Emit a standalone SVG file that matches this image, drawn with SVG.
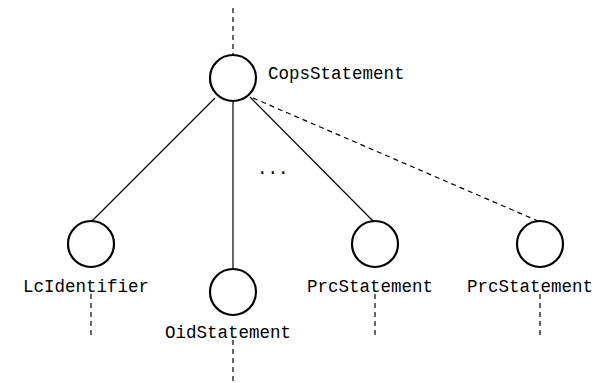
<svg xmlns="http://www.w3.org/2000/svg" width="597" height="383" viewBox="0 0 597 383">
  <style>
    .node { fill: #fff; stroke: #000; stroke-width: 2.2; }
    .edge { fill: none; stroke: #000; stroke-width: 1.2; }
    .dash { fill: none; stroke: #000; stroke-width: 1.2; stroke-dasharray: 5 4; }
    .lbl { font-family: "Liberation Mono", "Courier New", monospace; font-size: 17.5px; fill: #000; }
    .mid { text-anchor: middle; }
  </style>
  <rect width="597" height="383" fill="#fff"/>
  <g id="connectors">
    <line class="dash" x1="233" y1="8" x2="233" y2="54"/>
    <line class="edge" x1="215" y1="98" x2="92" y2="221"/>
    <line class="edge" x1="233" y1="102" x2="233" y2="268"/>
    <line class="edge" x1="250" y1="97" x2="373" y2="221"/>
    <line class="dash" x1="253" y1="98" x2="538" y2="221"/>
    <line class="dash" x1="91" y1="294" x2="91" y2="335"/>
    <line class="dash" x1="233" y1="340" x2="233" y2="383"/>
    <line class="dash" x1="375" y1="294" x2="375" y2="335"/>
    <line class="dash" x1="540" y1="294" x2="540" y2="335"/>
  </g>
  <g id="cops">
    <circle class="node" cx="233" cy="78" r="23"/>
    <text class="lbl" x="268" y="79">CopsStatement</text>
  </g>
  <g id="lcid">
    <circle class="node" cx="91" cy="244" r="23"/>
    <text class="lbl mid" x="86" y="292">LcIdentifier</text>
  </g>
  <g id="oid">
    <circle class="node" cx="233" cy="292" r="23"/>
    <text class="lbl mid" x="228" y="338">OidStatement</text>
  </g>
  <g id="prc1">
    <circle class="node" cx="375" cy="244" r="23"/>
    <text class="lbl mid" x="370" y="292">PrcStatement</text>
  </g>
  <g id="prc2">
    <circle class="node" cx="540" cy="244" r="23"/>
    <text class="lbl mid" x="530" y="292">PrcStatement</text>
  </g>
  <g id="ellipsis">
    <text class="lbl" x="257" y="174">...</text>
  </g>
</svg>
